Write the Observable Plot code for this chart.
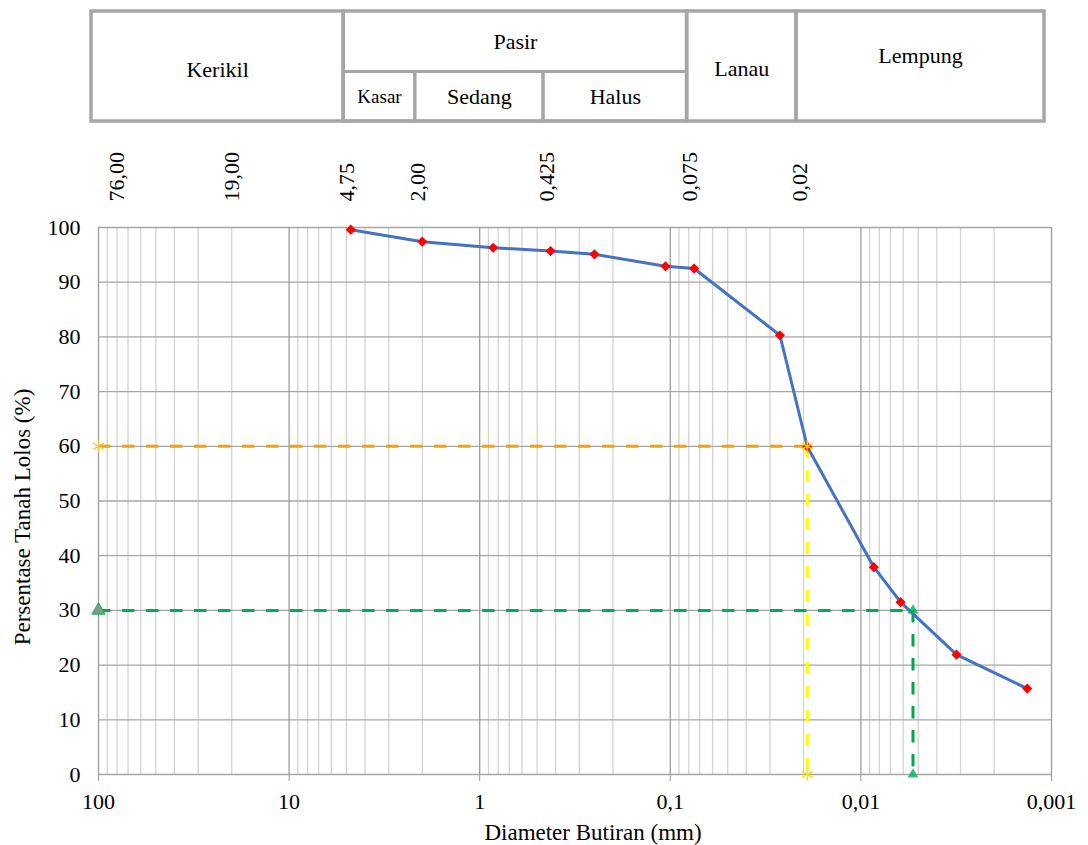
<!DOCTYPE html>
<html>
<head>
<meta charset="utf-8">
<script src="https://cdn.jsdelivr.net/npm/d3@7"></script>
<script src="https://cdn.jsdelivr.net/npm/@observablehq/plot@0.6"></script>
<style>
  html, body { margin: 0; padding: 0; background: #ffffff; }
  #chart svg { display: block; }
</style>
</head>
<body>
<div id="chart"></div>
<script>
// ---------------- data ----------------
const diameter = [4.75, 2.00, 0.85, 0.425, 0.25, 0.106, 0.075, 0.0266, 0.0191, 0.00855, 0.00619, 0.00315, 0.00134];
const percentPassing = [99.6, 97.4, 96.3, 95.7, 95.1, 92.9, 92.5, 80.3, 59.9, 37.9, 31.5, 21.9, 15.7];

const D60 = 0.0191;
const D30 = 0.00533;

const xTicks = [100, 10, 1, 0.1, 0.01, 0.001];
const yTicks = [0, 10, 20, 30, 40, 50, 60, 70, 80, 90, 100];

const sieveSizes = [76, 19, 4.75, 2, 0.425, 0.075, 0.02];
const sieveLabels = ["76,00", "19,00", "4,75", "2,00", "0,425", "0,075", "0,02"];

const soilClasses = ["Kerikil", "Pasir", "Lanau", "Lempung"];
const classFrom = [100, 4.75, 0.075, 0.02];
const classTo = [4.75, 0.075, 0.02, 0.001];

const sandClasses = ["Kasar", "Sedang", "Halus"];
const sandFrom = [4.75, 2, 0.425];
const sandTo = [2, 0.425, 0.075];

// ---------------- derived tables ----------------
const points = diameter.map((d, i) => ({d, p: percentPassing[i]}));
const classes = soilClasses.map((name, i) => ({name, from: classFrom[i], to: classTo[i]}));
const sand = sandClasses.map((name, i) => ({name, from: sandFrom[i], to: sandTo[i]}));
const sieves = sieveSizes.map((s, i) => ({s, label: sieveLabels[i]}));
const minorX = [];
for (const L of [10, 1, 0.1, 0.01, 0.001]) for (let m = 2; m <= 9; m++) minorX.push(+(L * m).toPrecision(3));

const W = 1088;
const font = "'Liberation Serif', 'Times New Roman', serif";
const borderColor = "#a6a6a6";
const dash = "12.5,11.5";
const fmt = d => String(d).replace(".", ",");

// ---------------- header (classification table) ----------------
const classY = {Kerikil: 0.47, Pasir: 0.725, Lanau: 0.48, Lempung: 0.6};
const header = Plot.plot({
  width: W, height: 210,
  marginLeft: 98, marginRight: 37, marginTop: 11, marginBottom: 89,
  x: {type: "log", domain: [0.001, 100], reverse: true, axis: null},
  y: {domain: [0, 1], axis: null},
  style: {fontFamily: font, fontSize: "22px", background: "#ffffff", color: "#000000"},
  marks: [
    Plot.rect(classes, {x1: "from", x2: "to", y1: 0, y2: 1, fill: "none", stroke: borderColor, strokeWidth: 3.5, dx: -7}),
    Plot.rect(sand, {x1: "from", x2: "to", y1: 0, y2: 0.45, fill: "none", stroke: borderColor, strokeWidth: 3, dx: -7}),
    Plot.text(classes, {x: d => Math.sqrt(d.from * d.to), y: d => classY[d.name], text: "name", dx: -7, fontSize: 22}),
    Plot.text(sand, {x: d => Math.sqrt(d.from * d.to), y: 0.225, text: "name", dx: -7, fontSize: d => d.name === "Kasar" ? 19 : 22}),
    Plot.text(sieves, {x: "s", y: 0, text: "label", rotate: -90, textAnchor: "start", dx: -4, dy: 80, fontSize: 22})
  ]
});

// ---------------- main chart ----------------
const main = Plot.plot({
  width: W, height: 635,
  marginLeft: 98, marginRight: 37, marginTop: 17, marginBottom: 71,
  x: {type: "log", domain: [0.001, 100], reverse: true},
  y: {domain: [0, 100]},
  style: {fontFamily: font, fontSize: "22px", background: "#ffffff", color: "#000000"},
  marks: [
    Plot.ruleX(minorX, {stroke: "#d3d3d3", strokeWidth: 1.3}),
    Plot.ruleY(yTicks, {stroke: "#a6a6a6", strokeWidth: 1.3}),
    Plot.ruleX(xTicks, {stroke: "#9c9c9c", strokeWidth: 1.3}),
    Plot.axisX({ticks: xTicks, tickFormat: fmt, tickSize: 7, tickPadding: 12, stroke: "#9c9c9c", label: null, fontSize: 22}),
    Plot.axisY({ticks: yTicks, tickSize: 0, tickPadding: 18, label: null, fontSize: 22}),
    // guide lines (D60, D30)
    Plot.ruleY([{y: 60, x1: 100, x2: D60}], {y: "y", x1: "x1", x2: "x2", stroke: "#E8A60A", strokeWidth: 3, strokeDasharray: dash}),
    Plot.ruleX([{x: D60, y1: 60, y2: 0}], {x: "x", y1: "y1", y2: "y2", stroke: "#FFFF00", strokeWidth: 3, strokeDasharray: dash}),
    Plot.ruleY([{y: 30, x1: 100, x2: D30}], {y: "y", x1: "x1", x2: "x2", stroke: "#00B050", strokeWidth: 3, strokeDasharray: dash}),
    Plot.ruleX([{x: D30, y1: 30, y2: 0}], {x: "x", y1: "y1", y2: "y2", stroke: "#00A84A", strokeWidth: 3, strokeDasharray: dash}),
    // grain size distribution curve
    Plot.line(points, {x: "d", y: "p", stroke: "#4472C4", strokeWidth: 3}),
    Plot.dot(points, {x: "d", y: "p", symbol: "diamond2", r: 4.6, fill: "#FF0000", stroke: "none"}),
    // guide markers
    Plot.dot([{x: 100, y: 60}], {x: "x", y: "y", symbol: "asterisk", r: 6, stroke: "#F4C040", strokeWidth: 1.2}),
    Plot.dot([{x: D60, y: 60}, {x: D60, y: 0}], {x: "x", y: "y", symbol: "asterisk", r: 6, stroke: "#FFE000", strokeWidth: 1.5}),
    Plot.dot([{x: 100, y: 30}], {x: "x", y: "y", symbol: "triangle", r: 5, fill: "#7a9e84", stroke: "#00B050", strokeWidth: 0.8}),
    Plot.dot([{x: D30, y: 30}, {x: D30, y: 0}], {x: "x", y: "y", symbol: "triangle", r: 4, fill: "#00B050", stroke: "none", fillOpacity: 0.8}),
    // axis titles
    Plot.text(["Diameter Butiran (mm)"], {frameAnchor: "bottom", textAnchor: "middle", lineAnchor: "middle", dx: 18, dy: 58, fontSize: 23}),
    Plot.text(["Persentase Tanah Lolos (%)"], {frameAnchor: "left", textAnchor: "middle", lineAnchor: "middle", rotate: -90, dx: -76, dy: 16, fontSize: 23})
  ]
});

const root = document.getElementById("chart");
root.appendChild(header);
root.appendChild(main);
</script>
</body>
</html>
